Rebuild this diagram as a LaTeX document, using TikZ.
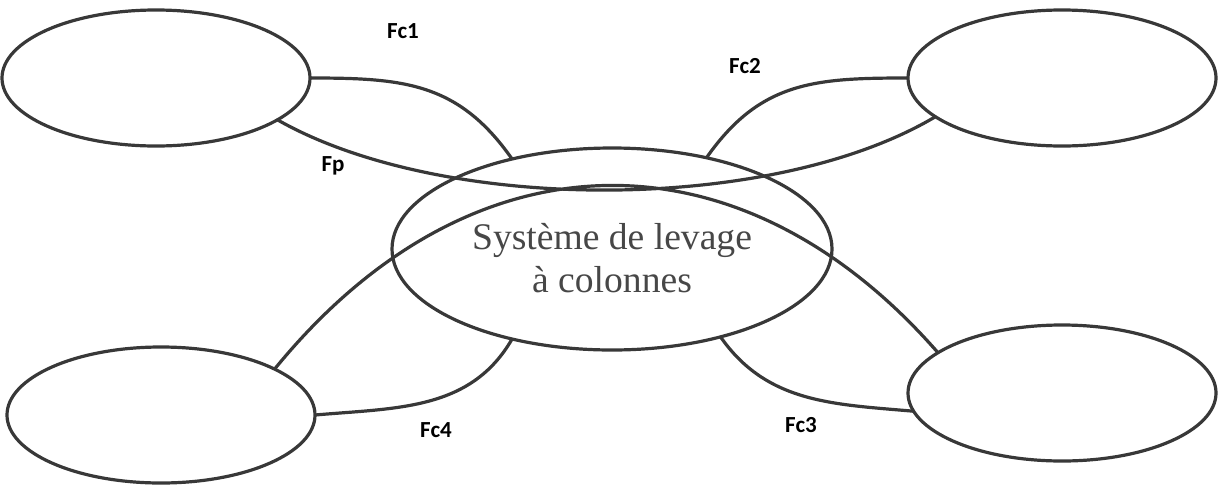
\documentclass[tikz,border=0pt]{standalone}
\usepackage{fontspec}
\setmainfont{Liberation Serif}
\setsansfont{Carlito}
\usetikzlibrary{shapes.geometric}
\tikzset{
	x=0.5pt, y=0.5pt, % one unit is one pixel of the drawing
	lien/.style={line width=1.6pt, draw=black!78}, % the lines between the elements
	extelem/.style={ellipse, draw=black!78, line width=1.6pt, outer sep=0pt, minimum width=154pt, minimum height=68pt}, % outer elements
	systeme/.style={ellipse, draw=black!78, line width=1.6pt, outer sep=0pt, minimum width=220pt, minimum height=101pt}, % the system
	fonction/.style={font=\sffamily\bfseries\fontsize{11.5}{13}\selectfont, anchor=base, inner sep=0pt}, % labels of the functions
}

\begin{document}
\begin{tikzpicture}
	\useasboundingbox (0,0) rectangle (1224,484);
			\node[extelem] (hg) at (156,406) {};
			\node[extelem] (hd) at (1062,406) {};
			\node[extelem] (bg) at (161,69) {};
			\node[extelem] (bd) at (1062,91) {};
			\node[systeme] (sys) at (612,235) {};
			\node[align=center, text=black!72, font=\fontsize{18.8}{21.6}\selectfont] (txt) at (612,226) {Système de levage\\à colonnes};
	\draw[lien] (hg.east) to[out=0, in=125, looseness=1.1] (sys.138)
			(hd.west) to[out=180, in=55, looseness=1.1] (sys.44)
			(bg.east) to[out=5, in=-120] (sys.222)
			(bd.-173) to[out=175, in=-55] (sys.-39)
			(hg.-19) .. controls (443,270) and (772,270) .. (hd.-163)
			(bg.22) .. controls (472,357) and (741,357) .. (bd.162);
			\node[fonction] (fc1) at (403,446) {Fc1};
			\node[fonction] (fp) at (333,313) {Fp};
			\node[fonction] (fc2) at (745,411) {Fc2};
			\node[fonction] (fc4) at (436,47) {Fc4};
			\node[fonction] (fc3) at (801,52) {Fc3};
	\end{tikzpicture}
\end{document}
